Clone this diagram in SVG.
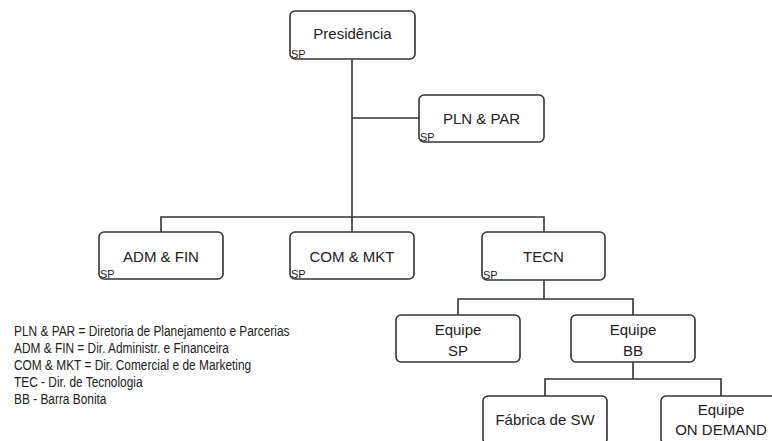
<svg xmlns="http://www.w3.org/2000/svg" width="772" height="441" viewBox="0 0 772 441">
  <style>
    .box { fill: #ffffff; stroke: #333333; stroke-width: 1.6; }
    .wire { fill: none; stroke: #333333; stroke-width: 1.6; }
    .lbl { font-family: "Liberation Sans", Arial, sans-serif; font-size: 15px; fill: #222222; text-anchor: middle; }
    .loc { font-family: "Liberation Sans", Arial, sans-serif; font-size: 11px; fill: #222222; }
    .legend { font-family: "Liberation Sans", Arial, sans-serif; font-size: 14.5px; fill: #222222; }
  </style>
  <rect width="772" height="441" fill="#ffffff"/>

  <!-- connectors -->
  <g id="connectors" class="wire">
    <path d="M352 59 V217"/>
    <path d="M352 118 H419"/>
    <path d="M161 232 V217 H544 V232"/>
    <path d="M352 217 V232"/>
    <path d="M544 280 V299"/>
    <path d="M458 315 V299 H633 V315"/>
    <path d="M633 362 V379"/>
    <path d="M545 396 V379 H721 V396"/>
  </g>

  <g id="presidencia">
    <rect class="box" x="290" y="11" width="125" height="48" rx="5"/>
    <text class="lbl" x="352.5" y="39">Presidência</text>
    <text class="loc" x="291" y="58">SP</text>
  </g>

  <g id="pln-par">
    <rect class="box" x="419" y="95" width="125" height="47" rx="5"/>
    <text class="lbl" x="481.5" y="124">PLN &amp; PAR</text>
    <text class="loc" x="420" y="141">SP</text>
  </g>

  <g id="adm-fin">
    <rect class="box" x="99" y="232" width="124" height="47" rx="5"/>
    <text class="lbl" x="161" y="262">ADM &amp; FIN</text>
    <text class="loc" x="100" y="278">SP</text>
  </g>

  <g id="com-mkt">
    <rect class="box" x="290" y="232" width="124" height="47" rx="5"/>
    <text class="lbl" x="352" y="262">COM &amp; MKT</text>
    <text class="loc" x="291" y="278">SP</text>
  </g>

  <g id="tecn">
    <rect class="box" x="482" y="232" width="123" height="48" rx="5"/>
    <text class="lbl" x="543.5" y="262">TECN</text>
    <text class="loc" x="483" y="279">SP</text>
  </g>

  <g id="equipe-sp">
    <rect class="box" x="396" y="315" width="124" height="47" rx="5"/>
    <text class="lbl" x="458" y="335">Equipe</text>
    <text class="lbl" x="458" y="356">SP</text>
  </g>

  <g id="equipe-bb">
    <rect class="box" x="571" y="315" width="124" height="47" rx="5"/>
    <text class="lbl" x="633" y="335">Equipe</text>
    <text class="lbl" x="633" y="356">BB</text>
  </g>

  <g id="fabrica-sw">
    <rect class="box" x="483" y="396" width="124" height="48" rx="5"/>
    <text class="lbl" x="545" y="425">Fábrica de SW</text>
  </g>

  <g id="equipe-on-demand">
    <rect class="box" x="661" y="396" width="122" height="48" rx="5"/>
    <text class="lbl" x="721" y="415">Equipe</text>
    <text class="lbl" x="721" y="435">ON DEMAND</text>
  </g>

  <!-- abbreviations, set in a narrowed face -->
  <g id="legend" class="legend" transform="translate(14 0) scale(0.82 1)">
    <text x="0" y="336">PLN &amp; PAR = Diretoria de Planejamento e Parcerias</text>
    <text x="0" y="353">ADM &amp; FIN = Dir. Administr. e Financeira</text>
    <text x="0" y="370">COM &amp; MKT = Dir. Comercial e de Marketing</text>
    <text x="0" y="387">TEC - Dir. de Tecnologia</text>
    <text x="0" y="404">BB - Barra Bonita</text>
  </g>
</svg>
